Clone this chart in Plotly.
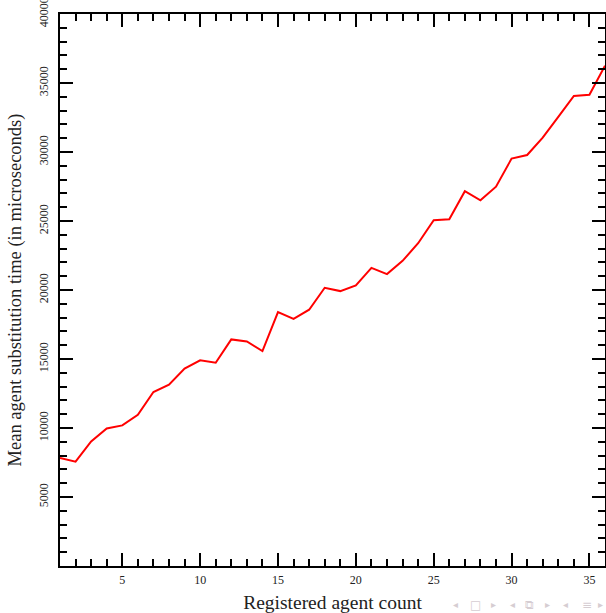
import plotly.graph_objects as go

agent_count = list(range(1, 37))
mean_time_us = [7830, 7560, 9030, 9970, 10190, 10960, 12610, 13140, 14300, 14900,
                14730, 16420, 16270, 15580, 18400, 17910, 18570, 20160, 19920, 20330,
                21600, 21150, 22110, 23390, 25060, 25130, 27160, 26500, 27490, 29520,
                29780, 31040, 32550, 34060, 34150, 36250]

x_tickvals = [5, 10, 15, 20, 25, 30, 35]
y_tickvals = [5000, 10000, 15000, 20000, 25000, 30000, 35000, 40000]

FONT = "Liberation Serif"

fig = go.Figure()
fig.add_trace(go.Scatter(x=agent_count, y=mean_time_us, mode="lines",
                         line=dict(color="#ff0000", width=2), showlegend=False))

axis_common = dict(showgrid=False, zeroline=False, showline=True, linecolor="black",
                   linewidth=2, mirror="allticks", ticks="inside", ticklen=13,
                   tickwidth=2, tickcolor="black", automargin=False,
                   tickformat="d", ticklabeloverflow="allow",
                   tickfont=dict(family=FONT, size=12, color="#222"))

fig.update_xaxes(range=[1, 36], tickmode="array", tickvals=x_tickvals,
                 ticklabelstandoff=2,
                 minor=dict(tickmode="linear", tick0=0, dtick=1, ticklen=7,
                            tickwidth=2, tickcolor="black", ticks="inside"),
                 title=dict(text="Registered agent count",
                            font=dict(family=FONT, size=19.5, color="#222"), standoff=10),
                 **axis_common)
fig.update_yaxes(range=[0, 40000], tickmode="array", tickvals=y_tickvals,
                 tickangle=-90, ticklabelstandoff=5,
                 minor=dict(tickmode="linear", tick0=0, dtick=1000, ticklen=7,
                            tickwidth=2, tickcolor="black", ticks="inside"),
                 title=dict(text="Mean agent substitution time (in microseconds)",
                            font=dict(family=FONT, size=18.5, color="#222"), standoff=11),
                 **axis_common)

# beamer navigation symbols (decoration, bottom right)
nav_symbols = ["◂", "□", "▸", "◂", "⧉", "▸", "◂", "≡", "▸"]
nav_px = [455, 475, 493, 512, 529, 547, 565, 587, 600]
for s, px in zip(nav_symbols, nav_px):
    fig.add_annotation(xref="paper", yref="paper", x=(px - 60) / 545, y=(566.5 - 605) / 552,
                       xanchor="center", yanchor="middle", showarrow=False, text=s,
                       font=dict(family="DejaVu Sans", size=12 if s in "□⧉≡" else 10,
                                 color="#d6cdd2"))

fig.update_layout(width=606, height=613, plot_bgcolor="white", paper_bgcolor="white",
                  margin=dict(l=60, r=1, t=14, b=47))

fig.write_html("out.html", config={"displayModeBar": False},
               post_script="document.body.style.margin='0';document.body.style.overflow='hidden';")
